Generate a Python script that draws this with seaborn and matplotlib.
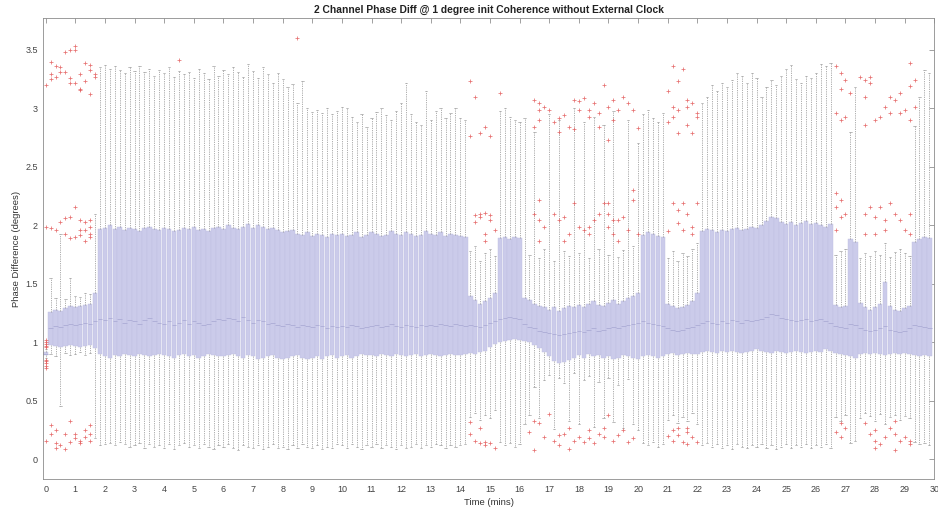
import numpy as np
import pandas as pd
import matplotlib
matplotlib.use("Agg")
import matplotlib.pyplot as plt
import seaborn as sns

# ---- data: one box every 10 s (6 per minute), 180 boxes -----------------
# each row below = one minute (6 boxes)
whisker_low = [
    0.87, 0.90, 0.88, 0.46, 0.91, 0.89,
    0.90, 0.92, 0.89, 0.91, 0.18, 0.12,
    0.13, 0.14, 0.12, 0.15, 0.13, 0.11,
    0.12, 0.14, 0.10, 0.13, 0.11, 0.12,
    0.10, 0.13, 0.09, 0.12, 0.14, 0.11,
    0.12, 0.10, 0.13, 0.11, 0.09, 0.12,
    0.11, 0.13, 0.10, 0.08, 0.12, 0.11,
    0.10, 0.12, 0.09, 0.11, 0.13, 0.10,
    0.11, 0.09, 0.12, 0.10, 0.13, 0.11,
    0.10, 0.12, 0.09, 0.11, 0.10, 0.13,
    0.12, 0.10, 0.13, 0.11, 0.09, 0.12,
    0.11, 0.13, 0.10, 0.12, 0.11, 0.09,
    0.12, 0.10, 0.11, 0.13, 0.10, 0.12,
    0.11, 0.13, 0.12, 0.10, 0.12, 0.11,
    0.12, 0.13, 0.36, 0.40, 0.34, 0.38,
    0.35, 0.42, 0.15, 0.12, 0.14, 0.11,
    0.13, 0.30, 0.38, 0.62, 0.35, 0.68,
    0.72, 0.26, 0.70, 0.65, 0.33, 0.74,
    0.30, 0.68, 0.71, 0.28, 0.66, 0.35,
    0.70, 0.32, 0.64, 0.27, 0.69, 0.30,
    0.25, 0.14, 0.12, 0.15, 0.11, 0.13,
    0.34, 0.38, 0.31, 0.36, 0.33, 0.40,
    0.30, 0.12, 0.14, 0.11, 0.13, 0.10,
    0.12, 0.09, 0.13, 0.11, 0.10, 0.12,
    0.11, 0.13, 0.10, 0.12, 0.09, 0.11,
    0.13, 0.10, 0.12, 0.11, 0.13, 0.10,
    0.12, 0.11, 0.13, 0.10, 0.36, 0.33,
    0.38, 0.14, 0.16, 0.35, 0.40, 0.37,
    0.33, 0.39, 0.30, 0.36, 0.38, 0.34,
    0.37, 0.35, 0.15, 0.13, 0.14, 0.12,
]

lower_quartile = [
    0.89, 0.98, 0.97, 0.96, 0.97, 0.98,
    0.97, 0.96, 0.97, 0.98, 0.95, 0.90,
    0.88, 0.87, 0.89, 0.88, 0.90, 0.89,
    0.88, 0.90, 0.89, 0.88, 0.89, 0.90,
    0.89, 0.88, 0.87, 0.89, 0.90, 0.88,
    0.89, 0.87, 0.88, 0.90, 0.89, 0.88,
    0.88, 0.89, 0.90, 0.88, 0.87, 0.89,
    0.88, 0.86, 0.87, 0.88, 0.89, 0.87,
    0.86, 0.87, 0.88, 0.89, 0.87, 0.86,
    0.87, 0.88, 0.86, 0.88, 0.89, 0.87,
    0.88, 0.89, 0.87, 0.88, 0.90, 0.89,
    0.89, 0.88, 0.90, 0.89, 0.88, 0.90,
    0.89, 0.88, 0.89, 0.90, 0.88, 0.89,
    0.90, 0.89, 0.88, 0.89, 0.90, 0.89,
    0.89, 0.90, 0.91, 0.90, 0.92, 0.93,
    0.96, 0.99, 1.00, 1.01, 1.02, 1.03,
    1.02, 1.01, 1.00, 0.98, 0.95, 0.92,
    0.88, 0.84, 0.82, 0.83, 0.85, 0.87,
    0.89, 0.87, 0.90, 0.88, 0.89, 0.87,
    0.88, 0.86, 0.87, 0.89, 0.88, 0.87,
    0.86, 0.88, 0.89, 0.88, 0.87, 0.88,
    0.90, 0.91, 0.89, 0.90, 0.91, 0.90,
    0.90, 0.92, 0.93, 0.92, 0.91, 0.93,
    0.92, 0.93, 0.92, 0.91, 0.92, 0.93,
    0.94, 0.93, 0.92, 0.91, 0.93, 0.92,
    0.91, 0.92, 0.93, 0.92, 0.91, 0.92,
    0.93, 0.92, 0.94, 0.93, 0.91, 0.90,
    0.89, 0.88, 0.87, 0.90, 0.91, 0.90,
    0.91, 0.90, 0.89, 0.90, 0.91, 0.90,
    0.91, 0.90, 0.89, 0.88, 0.89, 0.88,
]

median = [
    0.90, 1.12, 1.14, 1.13, 1.15, 1.16,
    1.15, 1.16, 1.17, 1.16, 1.18, 1.20,
    1.19, 1.21, 1.18, 1.20, 1.17, 1.19,
    1.18, 1.16, 1.19, 1.21, 1.18, 1.17,
    1.16, 1.18, 1.15, 1.17, 1.19, 1.16,
    1.18, 1.17, 1.15, 1.16, 1.18, 1.20,
    1.19, 1.21, 1.20, 1.18, 1.22, 1.19,
    1.17, 1.19, 1.18, 1.16, 1.17, 1.15,
    1.14, 1.16, 1.15, 1.13, 1.15, 1.14,
    1.13, 1.15, 1.14, 1.12, 1.14, 1.13,
    1.14, 1.13, 1.15, 1.14, 1.12, 1.13,
    1.14, 1.15, 1.13, 1.14, 1.16, 1.14,
    1.13, 1.15, 1.14, 1.13, 1.15, 1.14,
    1.15, 1.14, 1.16, 1.15, 1.14, 1.16,
    1.15, 1.14, 1.15, 1.14, 1.13, 1.15,
    1.17, 1.18, 1.20, 1.21, 1.22, 1.21,
    1.20, 1.16, 1.13, 1.12, 1.10, 1.09,
    1.08, 1.07, 1.06, 1.07, 1.08, 1.09,
    1.10, 1.09, 1.11, 1.12, 1.10, 1.11,
    1.12, 1.13, 1.12, 1.14, 1.15, 1.16,
    1.17, 1.18, 1.17, 1.16, 1.15, 1.14,
    1.12, 1.11, 1.10, 1.11, 1.12, 1.13,
    1.15, 1.17, 1.18, 1.17, 1.16, 1.18,
    1.17, 1.19, 1.18, 1.17, 1.19, 1.18,
    1.19, 1.20, 1.22, 1.24, 1.23, 1.21,
    1.20, 1.19, 1.18, 1.19, 1.20, 1.18,
    1.19, 1.20, 1.18, 1.17, 1.14, 1.13,
    1.12, 1.16, 1.15, 1.12, 1.11, 1.10,
    1.11, 1.12, 1.14, 1.11, 1.10, 1.09,
    1.10, 1.12, 1.15, 1.14, 1.13, 1.12,
]

upper_quartile = [
    0.92, 1.26, 1.28, 1.27, 1.29, 1.31,
    1.30, 1.31, 1.32, 1.33, 1.42, 1.97,
    1.98, 2.00, 1.97, 1.99, 1.96, 1.98,
    1.97, 1.95, 1.98, 1.99, 1.97, 1.96,
    1.98, 1.97, 1.95, 1.96, 1.98, 1.97,
    1.99, 1.96, 1.97, 1.95, 1.98, 1.99,
    1.97, 2.00, 1.98, 1.97, 1.99, 2.01,
    1.98, 2.00, 1.99, 1.97, 1.98, 1.96,
    1.94, 1.95, 1.96, 1.93, 1.92, 1.94,
    1.91, 1.93, 1.92, 1.90, 1.93, 1.92,
    1.93, 1.91, 1.92, 1.94, 1.90, 1.92,
    1.94, 1.93, 1.91, 1.92, 1.95, 1.93,
    1.92, 1.94, 1.93, 1.91, 1.92, 1.95,
    1.93, 1.92, 1.94, 1.91, 1.93, 1.92,
    1.91, 1.90, 1.40, 1.36, 1.33, 1.35,
    1.38, 1.42, 1.89, 1.90, 1.88, 1.90,
    1.89, 1.38, 1.36, 1.33, 1.31, 1.30,
    1.28, 1.30, 1.27, 1.29, 1.31, 1.30,
    1.32, 1.30, 1.33, 1.35, 1.32, 1.31,
    1.34, 1.36, 1.33, 1.35, 1.38, 1.40,
    1.42, 1.92, 1.94, 1.93, 1.91, 1.90,
    1.33, 1.31, 1.29, 1.30, 1.32, 1.35,
    1.42, 1.95, 1.97, 1.96, 1.94, 1.96,
    1.95, 1.97, 1.98, 1.96, 1.97, 1.99,
    1.98, 2.00, 2.04, 2.07, 2.06, 2.03,
    2.01, 2.03, 2.00, 2.02, 2.04, 2.01,
    2.02, 2.00, 1.99, 2.01, 1.32, 1.30,
    1.31, 1.88, 1.86, 1.34, 1.30, 1.28,
    1.30, 1.33, 1.52, 1.31, 1.28, 1.27,
    1.29, 1.31, 1.86, 1.88, 1.90, 1.89,
]

whisker_high = [
    0.94, 1.55, 1.38, 1.93, 1.37, 1.55,
    1.40, 1.39, 1.42, 1.41, 2.10, 3.35,
    3.37, 3.34, 3.36, 3.33, 3.30, 3.35,
    3.32, 3.36, 3.31, 3.34, 3.28, 3.33,
    3.30, 3.35, 3.27, 3.32, 3.29, 3.31,
    3.26, 3.34, 3.30, 3.25, 3.36, 3.28,
    3.33, 3.29, 3.35, 3.31, 3.27, 3.38,
    3.32, 3.26, 3.35, 3.29, 3.22, 3.30,
    3.25, 3.18, 3.21, 3.05, 3.23, 3.00,
    2.97, 2.99, 2.96, 3.00, 2.95, 2.98,
    3.01, 3.00, 2.93, 2.88, 2.95, 2.84,
    2.92, 2.97, 3.00, 2.94, 2.90, 2.98,
    3.05, 3.22, 2.95, 2.88, 2.86, 3.15,
    2.90, 2.98, 3.00, 2.92, 2.96, 3.00,
    2.92, 2.90, 1.78, 1.82, 1.70, 1.76,
    1.80, 1.74, 2.98, 3.00, 2.93, 2.90,
    2.88, 2.92, 1.75, 2.80, 1.72, 1.80,
    2.95, 1.70, 2.90, 1.78, 1.74, 3.00,
    1.76, 2.88, 1.72, 2.93, 1.80, 2.86,
    1.75, 2.98, 1.73, 1.79, 2.90, 1.82,
    2.70, 2.95, 2.99, 2.92, 2.88, 2.96,
    1.72, 1.78, 1.70, 1.76, 1.74, 1.80,
    1.85, 3.05, 3.10, 3.20, 3.15, 3.22,
    3.18, 3.24, 3.30, 3.28, 3.22, 3.30,
    3.26, 3.10, 3.18, 3.24, 3.20, 3.28,
    3.34, 3.37, 3.25, 3.22, 3.28, 3.26,
    3.30, 3.38, 3.36, 3.39, 1.75, 1.78,
    1.80, 2.80, 3.18, 1.72, 1.76, 1.74,
    1.78, 1.75, 1.85, 1.73, 1.77, 1.80,
    1.76, 1.74, 2.85, 3.10, 3.33, 3.30,
]

# outliers: index of the box they belong to, and their value
outlier_box = [
    0, 0, 0, 0, 0, 0, 0, 0, 0, 0, 0, 0, 0,
    4, 5, 6, 6, 1, 2, 3, 1, 1, 2, 3, 4, 5, 6, 7, 7, 7, 8, 9, 9, 10, 10, 8, 9, 5,
    1, 2, 3, 4, 5, 6, 7, 8, 9, 9, 5, 6, 7, 8, 9, 4, 7, 8, 9,
    1, 1, 2, 2, 3, 4, 5, 5, 6, 6, 7, 8, 8, 9, 9, 9, 2, 4, 7,
    27, 51,
    86, 87, 89, 88, 90, 86, 92,
    87, 88, 88, 89, 90, 90, 87, 89, 89, 91,
    86, 86, 87, 88, 89, 89, 90, 91, 88,
    99, 100, 100, 101, 102, 99, 100, 103, 104, 105, 106, 107, 108, 109, 110,
    110, 111, 112, 112, 113, 114, 115, 115, 114, 116, 117, 118, 119, 120, 104,
    108, 107,
    99, 100, 100, 101, 103, 104, 105, 106, 107, 108, 109, 110, 110, 111, 112,
    114, 114, 115, 116, 117, 118, 119, 119, 100, 105, 113, 114, 115, 116, 120,
    98, 99, 100, 101, 102, 103, 104, 104, 105, 106, 107, 108, 109, 110, 110,
    111, 112, 113, 113, 114, 115, 116, 117, 118, 119, 99, 106,
    127, 129, 128, 127, 128, 130, 130, 131, 132, 128, 130, 131, 127, 132, 126, 126,
    127, 129, 128, 130, 132, 131, 129, 128, 131, 126,
    127, 127, 128, 129, 130, 130, 131, 132, 128, 130, 126,
    160, 161, 162, 161, 163, 160, 161, 162, 165, 166, 167, 166, 167, 166, 168,
    169, 170, 171, 172, 173, 174, 175, 175, 176, 173, 171, 175, 176,
    160, 161, 160, 161, 162, 160, 166, 167, 168, 168, 169, 170, 171, 172, 173,
    174, 175, 175, 166, 170,
    160, 161, 161, 162, 166, 167, 168, 168, 169, 170, 171, 172, 172, 173, 174,
    175, 175, 172, 168,
]
outlier_val = [
    0.78, 0.80, 0.82, 0.84, 0.85, 0.96, 0.97, 0.99, 1.00, 1.02, 3.20, 1.99, 0.16,
    3.48, 3.50, 3.53, 3.50, 3.40, 3.36, 3.31, 3.29, 3.25, 3.27, 3.35, 3.31, 3.26,
    3.22, 3.17, 3.16, 3.29, 3.23, 3.33, 3.12, 3.27, 3.29, 3.39, 3.37, 3.22,
    1.98, 1.96, 2.03, 2.06, 2.07, 2.16, 2.05, 2.03, 2.05, 1.99, 1.89, 1.90, 1.92,
    1.87, 1.90, 1.93, 1.96, 1.96, 1.93,
    0.22, 0.29, 0.14, 0.25, 0.12, 0.22, 0.33, 0.15, 0.18, 0.22, 0.16, 0.25, 0.19,
    0.16, 0.29, 0.22, 0.10, 0.09, 0.14,
    3.41, 3.60,
    3.23, 3.10, 2.84, 2.79, 2.76, 2.76, 3.13,
    2.09, 2.10, 2.07, 2.11, 2.05, 2.09, 2.03, 1.93, 1.87, 1.96,
    0.32, 0.22, 0.16, 0.14, 0.15, 0.12, 0.14, 0.10, 0.27,
    3.07, 2.99, 3.05, 3.01, 2.99, 2.84, 2.90, 2.88, 2.92, 2.94, 2.84, 3.07, 3.06,
    3.09, 2.99, 2.93, 3.05, 2.84, 2.96, 3.20, 3.01, 3.07, 2.90, 2.73, 2.99, 3.10,
    3.05, 2.99, 2.83, 2.80, 2.99, 2.82,
    2.10, 2.22, 2.05, 1.99, 2.10, 2.05, 2.07, 1.93, 2.19, 1.99, 1.96, 1.99, 1.93,
    2.05, 2.10, 2.19, 1.99, 1.93, 2.05, 2.07, 1.96, 2.30, 2.22, 1.87, 1.87, 2.19,
    2.10, 2.05, 1.87, 1.93,
    0.23, 0.33, 0.31, 0.19, 0.39, 0.16, 0.21, 0.12, 0.22, 0.27, 0.16, 0.19, 0.15,
    0.25, 0.18, 0.14, 0.22, 0.27, 0.19, 0.38, 0.16, 0.21, 0.25, 0.15, 0.18, 0.08,
    0.09,
    3.36, 3.34, 3.23, 3.01, 2.99, 3.01, 3.07, 3.05, 2.96, 2.79, 2.86, 2.79, 2.93,
    2.93, 3.15, 2.88,
    2.19, 2.19, 2.13, 2.10, 2.19, 1.99, 1.96, 2.02, 1.93, 1.95,
    0.25, 0.16, 0.21, 0.15, 0.23, 0.13, 0.19, 0.15, 0.27, 0.27, 0.20,
    3.36, 3.30, 3.24, 3.17, 3.13, 2.96, 2.90, 2.93, 3.27, 3.24, 3.27, 3.10, 3.22,
    2.86, 2.90, 2.93, 3.01, 3.10, 3.07, 3.13, 2.99, 3.39, 3.19, 3.01, 2.96, 2.96,
    2.90, 3.24,
    2.28, 2.22, 2.16, 2.07, 2.10, 1.96, 2.10, 2.16, 2.07, 1.93, 2.16, 2.05, 2.19,
    2.10, 2.05, 1.96, 2.10, 1.93, 1.93, 1.96,
    0.23, 0.31, 0.19, 0.27, 0.31, 0.22, 0.16, 0.25, 0.13, 0.19, 0.27, 0.33, 0.22,
    0.16, 0.19, 0.13, 0.16, 0.08, 0.10,
]

title = "2 Channel Phase Diff @ 1 degree init Coherence without External Clock"
x_label = "Time (mins)"
y_label = "Phase Difference (degrees)"
x_ticks = list(range(0, 31))
y_ticks = [0, 0.5, 1, 1.5, 2, 2.5, 3, 3.5]

# ---- long-form table: each box given by its five summary values ----------
box_time = np.arange(len(median)) / 6.0
rows = []
for t, lo, q1, md, q3, hi in zip(box_time, whisker_low, lower_quartile,
                                 median, upper_quartile, whisker_high):
    for v in (lo, q1, md, q3, hi):
        rows.append((t, v))
boxes = pd.DataFrame(rows, columns=["time", "phase"])

outliers = pd.DataFrame({
    "time": np.asarray(outlier_box) / 6.0,
    "phase": outlier_val,
})

# ---- figure ---------------------------------------------------------------
sns.set_style("white")
plt.rcParams["font.family"] = ["Liberation Sans", "DejaVu Sans"]

W, H = 938, 514
fig = plt.figure(figsize=(W / 100, H / 100), dpi=100)
ax = fig.add_axes([43.3 / W, 1 - 479.3 / H, (934.3 - 43.3) / W, (479.3 - 18.3) / H])

box_face = "#cbcbea"
sns.boxplot(
    data=boxes, x="time", y="phase", native_scale=True, ax=ax,
    whis=(0, 100), showfliers=False, width=0.92, saturation=1,
    color=box_face, linecolor="#c0c0e2", linewidth=0.3,
    boxprops=dict(facecolor=box_face, edgecolor="#c0c0e2", linewidth=0.3),
    medianprops=dict(color="#b0b0d8", linewidth=0.7),
    whiskerprops=dict(color="#858585", linestyle=(0, (2.0, 1.6)), linewidth=0.45),
    capprops=dict(color="#959595", linewidth=0.45),
)

sns.scatterplot(
    data=outliers, x="time", y="phase", ax=ax, marker="+",
    color="#e25858", s=11, linewidth=0.55, alpha=0.85, zorder=5,
)

ax.set_xlim(-0.08, 30)
ax.set_ylim(-0.17, 3.77)
ax.set_xticks(x_ticks)
ax.set_xticklabels([str(v) for v in x_ticks])
ax.set_yticks(y_ticks)
ax.set_yticklabels([f"{v:g}" for v in y_ticks])

ax.tick_params(axis="both", which="both", direction="in", length=3.5, width=0.5,
               colors="#7a7a7a", labelcolor="#444444", labelsize=6.5,
               top=True, right=True, pad=4)
for s in ax.spines.values():
    s.set_color("#8c8c8c")
    s.set_linewidth(0.6)
    s.set_visible(True)

ax.set_xlabel(x_label, fontsize=6.8, color="#333333", labelpad=3)
ax.set_ylabel(y_label, fontsize=6.8, color="#333333", labelpad=3)
ax.set_title(title, fontsize=7.4, fontweight="bold", color="#222222", pad=4)

fig.savefig("out.png", dpi=100)
